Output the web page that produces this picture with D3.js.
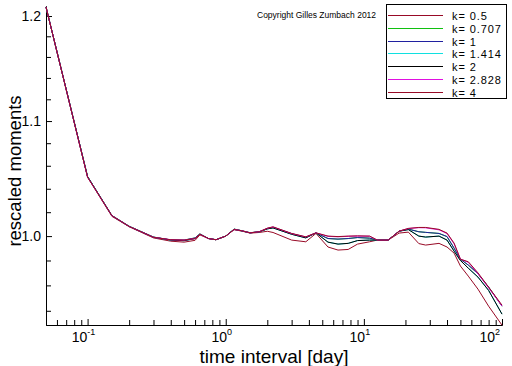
<!DOCTYPE html>
<html>
<head>
<meta charset="utf-8">
<script src="https://cdn.jsdelivr.net/npm/d3@7"></script>
<style>
  body { margin: 0; background: #fff; }
  svg { display: block; font-family: "Liberation Sans", Arial, sans-serif; }
</style>
</head>
<body>
<div id="chart"></div>
<script>
/* rescaled moments vs time interval */

// time interval [day]
var tdays = [0.05, 0.1, 0.15, 0.2, 0.3, 0.4, 0.5, 0.6, 0.65, 0.75, 0.85, 1, 1.15, 1.3, 1.5, 1.75,
  2, 2.2, 3, 3.8, 4.5, 5.5, 6.5, 7.7, 9, 11, 12.5, 15, 18, 21, 25, 28, 35, 40, 45, 50, 57, 67, 80, 100];

// one array per moment order k
var k05 = [1.209, 1.050, 1.0165, 1.0078, 0.9985, 0.9958, 0.995, 0.9965, 1.001, 0.998, 0.997, 1.000, 1.0053, 1.0042, 1.0025, 1.003,
  1.004, 1.003, 0.9967, 0.9953, 1.0022, 0.991, 0.9885, 0.989, 0.9934, 0.9953, 0.9967, 0.9967, 1.0025, 1.0033, 0.9938, 0.9926, 0.994, 0.991, 0.986, 0.9755, 0.9674, 0.957, 0.9436, 0.9289];
var k0707 = [1.209, 1.0505, 1.0172, 1.0082, 0.9992, 0.9968, 0.9967, 0.9985, 1.0018, 0.998, 0.997, 1.000, 1.0058, 1.0045, 1.0028, 1.0036,
  1.0062, 1.0072, 1.002, 0.999, 1.0027, 0.998, 0.9975, 0.998, 0.9988, 0.9983, 0.9967, 0.9967, 1.0041, 1.0058, 1.0036, 1.0031, 1.0022, 0.9996, 0.990, 0.981, 0.9763, 0.9693, 0.9586, 0.9436];
var k1 = [1.209, 1.0505, 1.0172, 1.0082, 0.9992, 0.9968, 0.9967, 0.9985, 1.0018, 0.998, 0.997, 1.000, 1.0058, 1.0045, 1.0028, 1.0036,
  1.0062, 1.0072, 1.002, 0.999, 1.0027, 0.998, 0.9975, 0.998, 0.9988, 0.9983, 0.9967, 0.9967, 1.0041, 1.0058, 1.0036, 1.0031, 1.0022, 0.9996, 0.990, 0.981, 0.9763, 0.9693, 0.9586, 0.9436];
var k1414 = [1.209, 1.0505, 1.017, 1.008, 0.999, 0.9968, 0.9962, 0.998, 1.0016, 0.998, 0.997, 1.000, 1.0056, 1.0044, 1.0027, 1.0035,
  1.006, 1.0068, 1.0015, 0.9985, 1.0027, 0.995, 0.9934, 0.994, 0.9963, 0.9967, 0.9967, 0.9967, 1.0041, 1.0054, 1.000, 0.9992, 1.000, 0.9967, 0.9876, 0.980, 0.9738, 0.9666, 0.956, 0.9374];
var k2 = [1.209, 1.0505, 1.017, 1.008, 0.999, 0.9968, 0.9962, 0.998, 1.0016, 0.998, 0.997, 1.000, 1.0056, 1.0044, 1.0027, 1.0035,
  1.006, 1.0068, 1.0015, 0.9985, 1.0027, 0.995, 0.9934, 0.994, 0.9963, 0.9967, 0.9967, 0.9967, 1.0041, 1.0054, 1.000, 0.9992, 1.000, 0.9967, 0.9876, 0.980, 0.9738, 0.9666, 0.956, 0.9374];
var k2828 = [1.209, 1.050, 1.017, 1.008, 0.999, 0.997, 0.9967, 0.998, 1.0015, 0.998, 0.997, 1.000, 1.0055, 1.0045, 1.0027, 1.0036,
  1.0065, 1.0076, 1.0021, 0.9993, 1.0027, 0.9998, 0.9994, 0.9998, 1.0, 0.9999, 0.9967, 0.9967, 1.0041, 1.0063, 1.007, 1.0069, 1.0052, 1.0021, 0.9936, 0.9812, 0.9785, 0.9694, 0.958, 0.9438];
var k4 = [1.209, 1.050, 1.017, 1.008, 0.999, 0.997, 0.9967, 0.998, 1.0015, 0.998, 0.997, 1.000, 1.0055, 1.0045, 1.0027, 1.0036,
  1.0066, 1.0077, 1.0022, 0.9994, 1.0027, 1.000, 0.9996, 1.000, 1.0002, 1.000, 0.9967, 0.9967, 1.0041, 1.0064, 1.0072, 1.0072, 1.0056, 1.0025, 0.9942, 0.981, 0.979, 0.970, 0.9586, 0.9444];

var seriesNames = ["k= 0.5", "k= 0.707", "k= 1", "k= 1.414", "k= 2", "k= 2.828", "k= 4"];
var seriesValues = [k05, k0707, k1, k1414, k2, k2828, k4];
var seriesColors = ["#980a26", "#10c010", "#2020a0", "#10e0e0", "#000000", "#e010e0", "#980a26"];

var xMajor = [0.1, 1, 10, 100];
var xExp = ["-1", "0", "1", "2"];
var yMajor = [1.0, 1.1, 1.2];

// size of the picture and of the plot box
var W = 512, H = 366;
var plot = {left: 46, right: 502, top: 6, bottom: 325};

var x = d3.scaleLog().domain([0.05, 100]).range([plot.left, plot.right]);
var y = d3.scaleLog().domain([0.929, 1.21]).range([plot.bottom, plot.top]);

var svg = d3.select("#chart").append("svg")
    .attr("width", W)
    .attr("height", H);

// minor ticks
var xMinor = [];
[0.01, 0.1, 1, 10].forEach(function(dec) {
  for (var m = 2; m <= 9; m++) {
    var v = +(m * dec).toPrecision(3);
    if (v > 0.05 && v < 100) xMinor.push(v);
  }
});
var yMinor = [0.94, 0.96, 0.98, 1.02, 1.04, 1.06, 1.08, 1.12, 1.14, 1.16, 1.18];

// x axis, ticks pointing inward
svg.append("g")
    .attr("transform", "translate(0," + plot.bottom + ")")
    .call(d3.axisBottom(x).tickValues(xMinor).tickSizeInner(-5).tickSizeOuter(0).tickFormat(""));
svg.append("g")
    .attr("class", "xmaj")
    .attr("transform", "translate(0," + plot.bottom + ")")
    .call(d3.axisBottom(x).tickValues(xMajor).tickSizeInner(-6).tickSizeOuter(0).tickFormat(""));

// y axis
svg.append("g")
    .attr("transform", "translate(" + plot.left + ",0)")
    .call(d3.axisLeft(y).tickValues(yMinor).tickSizeInner(-5).tickSizeOuter(0).tickFormat(""));
svg.append("g")
    .attr("class", "ymaj")
    .attr("transform", "translate(" + plot.left + ",0)")
    .call(d3.axisLeft(y).tickValues(yMajor).tickSizeInner(-6).tickSizeOuter(0).tickPadding(5).tickFormat(d3.format(".1f")));

svg.selectAll(".domain, .tick line").attr("stroke", "#000").attr("stroke-width", 1);
svg.selectAll(".ymaj text")
    .attr("font-size", 14)
    .attr("font-family", "Liberation Sans, Arial, sans-serif")
    .attr("fill", "#000");

// x tick labels as powers of ten
xMajor.forEach(function(v, i) {
  var lab = svg.append("text")
      .attr("y", 342)
      .attr("font-size", 14)
      .attr("fill", "#000");
  if (i == xMajor.length - 1) {
    lab.attr("x", 500).attr("text-anchor", "end");
  } else {
    lab.attr("x", x(v) - 4).attr("text-anchor", "middle");
  }
  lab.append("tspan").text("10");
  lab.append("tspan").attr("dy", -7).attr("font-size", 9).text(xExp[i]);
});

// the curves
var line = d3.line()
    .x(function(d, i) { return x(tdays[i]); })
    .y(function(d) { return y(d); });

seriesValues.forEach(function(vals, i) {
  svg.append("path")
      .datum(vals)
      .attr("fill", "none")
      .attr("stroke", seriesColors[i])
      .attr("stroke-width", 1)
      .attr("d", line);
});

// axis titles
svg.append("text")
    .attr("x", 274)
    .attr("y", 363)
    .attr("text-anchor", "middle")
    .attr("font-size", 19)
    .text("time interval [day]");

svg.append("text")
    .attr("transform", "translate(21,171) rotate(-90)")
    .attr("text-anchor", "middle")
    .attr("font-size", 18.5)
    .text("rescaled moments");

svg.append("text")
    .attr("x", 257)
    .attr("y", 18)
    .attr("font-size", 8.5)
    .text("Copyright Gilles Zumbach 2012");

// legend box
var leg = svg.append("g");
leg.append("rect")
    .attr("x", 386.5)
    .attr("y", 4.5)
    .attr("width", 120)
    .attr("height", 94)
    .attr("fill", "#fff")
    .attr("stroke", "#000");

seriesNames.forEach(function(name, i) {
  var ry = Math.round(15 + i * 12.8) + 0.5;
  leg.append("line")
      .attr("x1", 388).attr("x2", 443)
      .attr("y1", ry).attr("y2", ry)
      .attr("stroke", seriesColors[i]);
  leg.append("text")
      .attr("x", 452)
      .attr("y", ry + 4.5)
      .attr("font-size", 11)
      .attr("letter-spacing", 0.9)
      .text(name);
});
</script>
</body>
</html>
